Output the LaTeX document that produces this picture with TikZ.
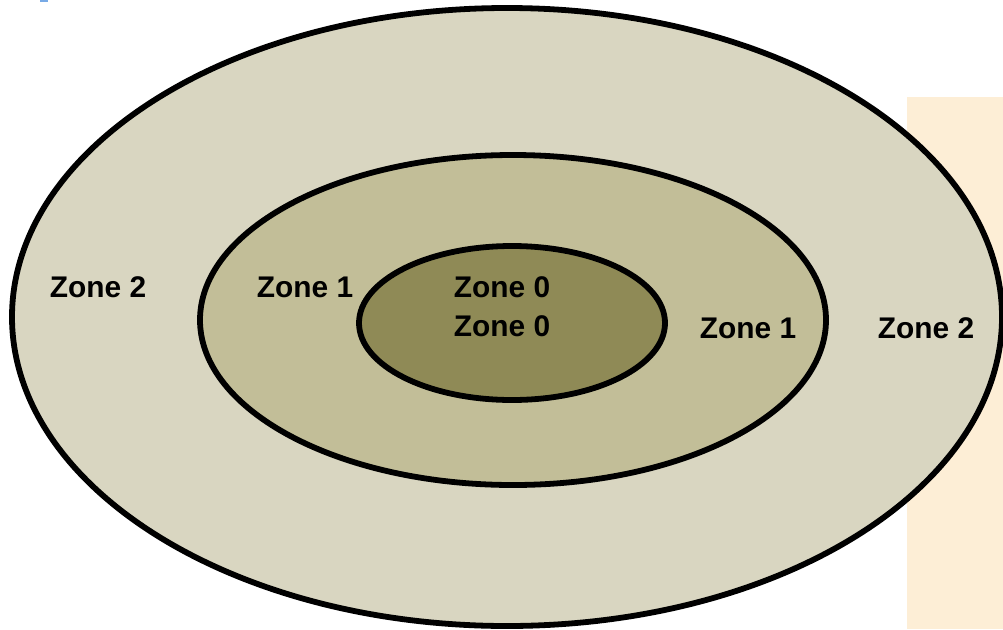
\documentclass[tikz,border=0pt]{standalone}
\usepackage{fontspec}
\setmainfont{Liberation Sans}
\usepackage{tikz}

\definecolor{zonetwo}{RGB}{217,214,193}
\definecolor{zoneone}{RGB}{194,190,152}
\definecolor{zonezero}{RGB}{143,138,86}
\definecolor{peach}{RGB}{253,238,214}
\definecolor{tagblue}{RGB}{120,170,230}

\begin{document}
\begin{tikzpicture}[%
		x=0.02cm, y=-0.02cm,
		ring/.style={draw=black, line width=3.3pt},
		zonelabel/.style={font=\fontsize{17}{20}\selectfont\bfseries, inner sep=0pt}]
		\useasboundingbox (0,0) rectangle (1003,629);
		\fill[tagblue] (40,0) rectangle (48,2);
		\fill[peach] (907,97) rectangle (1003,629);
		\draw[ring, fill=zonetwo] (507,317) ellipse (495 and 309);
		\draw[ring, fill=zoneone] (513,320) ellipse (313 and 165);
		\draw[ring, fill=zonezero] (512,323) ellipse (153 and 77);
		\node[zonelabel] (z2left) at (98,287) {Zone 2};
		\node[zonelabel] (z1left) at (305,287) {Zone 1};
		\node[zonelabel] (z0top) at (502,287) {Zone 0};
		\node[zonelabel] (z0bottom) at (502,326) {Zone 0};
		\node[zonelabel] (z1right) at (748,328) {Zone 1};
		\node[zonelabel] (z2right) at (926,328) {Zone 2};
	\end{tikzpicture}
\end{document}
